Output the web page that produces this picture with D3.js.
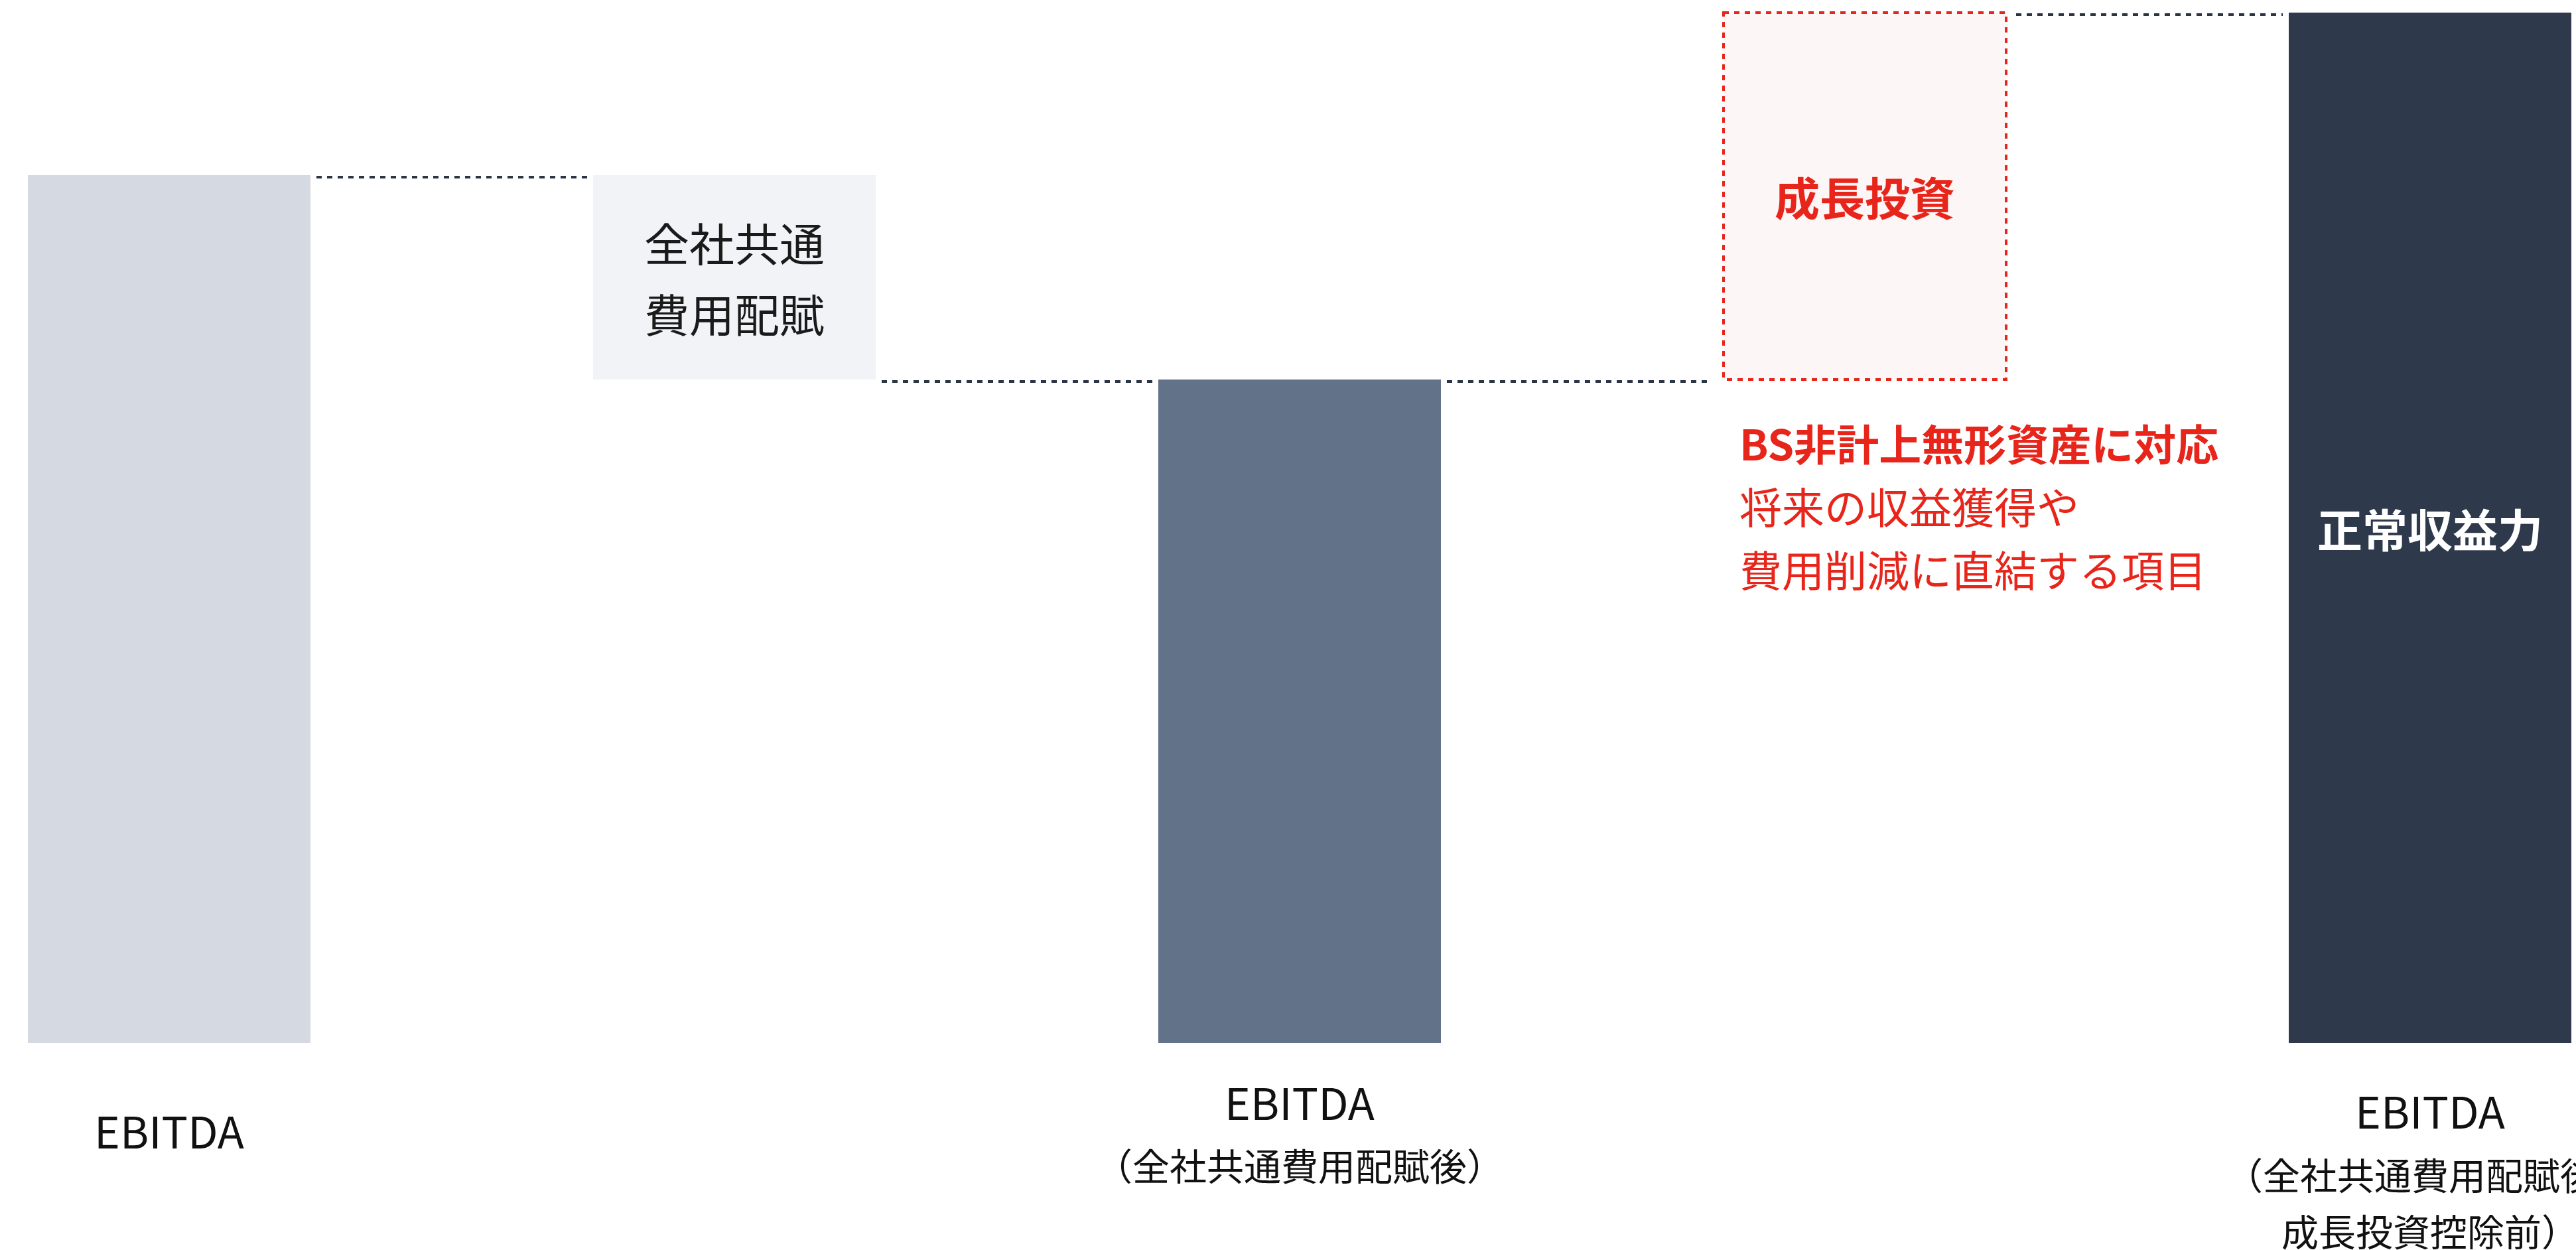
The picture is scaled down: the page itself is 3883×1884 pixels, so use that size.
<!DOCTYPE html>
<html lang="ja">
<head>
<meta charset="utf-8">
<script src="https://cdn.jsdelivr.net/npm/d3@7"></script>
<style>
  html, body { margin: 0; padding: 0; background: #ffffff; }
  svg { display: block; }
  text { font-family: "Noto Sans CJK JP", "Noto Sans", sans-serif; }
</style>
</head>
<body>
<svg id="chart"></svg>
<script>
// Waterfall steps from EBITDA to normalized earning power
const categories = ["EBITDA", "全社共通費用配賦", "EBITDA（全社共通費用配賦後）", "成長投資", "正常収益力"];
const kinds = ["total", "delta", "total", "delta", "total"];
const values = [84.2, -19.8, 64.4, 35.6, 100];

// Text shown inside the bars / boxes
const barTexts = [[], ["全社共通", "費用配賦"], [], ["成長投資"], ["正常収益力"]];

// Category labels under the bars (one entry per line)
const tickLabels = [
  ["EBITDA"],
  [],
  ["EBITDA", "（全社共通費用配賦後）"],
  [],
  ["EBITDA", "（全社共通費用配賦後、", "成長投資控除前）"]
];

// Note beside the growth-investment box
const noteLines = ["BS非計上無形資産に対応", "将来の収益獲得や", "費用削減に直結する項目"];

const W = 3883, H = 1884;
const baseY = 1572;

const svg = d3.select("#chart").attr("width", W).attr("height", H);

const x = d3.scaleBand().domain(categories).range([42, 3876]).paddingInner(0.5).paddingOuter(0);
const y = d3.scaleLinear().domain([0, 100]).range([baseY, 19]);
const py = v => Math.round(y(v));

// running levels
let level = 0;
const steps = categories.map((c, i) => {
  let start, end;
  if (kinds[i] === "total") { start = 0; end = values[i]; level = values[i]; }
  else { start = level; end = level + values[i]; level = end; }
  return { cat: c, kind: kinds[i], i, start, end, level };
});

const fills = ["#d5d9e1", "#f2f3f7", "#627389", "#fdf6f6", "#2e3a4c"];

// bars and step boxes
svg.append("g").selectAll("rect")
  .data(steps)
  .join("rect")
  .attr("x", d => Math.round(x(d.cat)))
  .attr("width", Math.round(x.bandwidth()))
  .attr("y", d => py(Math.max(d.start, d.end)))
  .attr("height", d => Math.abs(py(d.start) - py(d.end)))
  .attr("fill", (d, i) => fills[i])
  .attr("stroke", d => d.cat === "成長投資" ? "#e8251a" : "none")
  .attr("stroke-width", 4)
  .attr("stroke-dasharray", "8 8");

// dotted connectors between consecutive steps
const connectors = d3.pairs(steps).map(([a, b]) => ({ a, b, lv: a.level }));
svg.append("g").selectAll("line")
  .data(connectors)
  .join("line")
  .attr("x1", d => Math.round(x(d.a.cat) + x.bandwidth()) + (d.a.cat === "成長投資" ? 15 : 9))
  .attr("x2", d => Math.round(x(d.b.cat)) - (d.b.cat === "成長投資" ? 17 : 9))
  .attr("y1", d => py(d.lv) + 3)
  .attr("y2", d => py(d.lv) + 3)
  .attr("stroke", "#2a3546")
  .attr("stroke-width", 4)
  .attr("stroke-dasharray", "8 8");

// text inside bars
const innerStyle = {
  "全社共通費用配賦": { fill: "#1a1a1a", weight: 400, size: 68, gap: 107 },
  "成長投資": { fill: "#e8251a", weight: 700, size: 68, gap: 0 },
  "正常収益力": { fill: "#ffffff", weight: 700, size: 68, gap: 0 }
};
steps.forEach((d, i) => {
  const lines = barTexts[i];
  if (!lines.length) return;
  const st = innerStyle[d.cat];
  const cx = x(d.cat) + x.bandwidth() / 2;
  const cy = (y(d.start) + y(d.end)) / 2;
  svg.append("g").selectAll("text")
    .data(lines)
    .join("text")
    .attr("x", cx)
    .attr("y", (t, k) => cy + (k - (lines.length - 1) / 2) * st.gap)
    .attr("text-anchor", "middle")
    .attr("dominant-baseline", "central")
    .attr("fill", st.fill)
    .attr("font-weight", st.weight)
    .attr("font-size", st.size)
    .text(t => t);
});

// note text next to the growth box
const growth = steps[3];
svg.append("g").selectAll("text")
  .data(noteLines)
  .join("text")
  .attr("x", x(growth.cat) + 24)
  .attr("y", (t, k) => 666 + k * 95)
  .attr("dominant-baseline", "central")
  .attr("fill", "#e8251a")
  .attr("font-weight", (t, k) => k === 0 ? 700 : 400)
  .attr("font-size", 64)
  .text(t => t);

// category axis below the bars
const axis = d3.axisBottom(x).tickSize(0).tickFormat("");
const gx = svg.append("g").attr("transform", `translate(0,${baseY})`).call(axis);
gx.select(".domain").remove();

const lineCenters = [[130], [], [87, 182], [], [100, 196, 281]];
gx.selectAll(".tick text").each(function(c, i) {
  const t = d3.select(this)
    .attr("y", 0).attr("dy", null)
    .attr("fill", "#111111")
    .attr("font-family", "'Noto Sans CJK JP', sans-serif");
  t.selectAll("tspan")
    .data(tickLabels[i])
    .join("tspan")
    .attr("x", 0)
    .attr("y", (s, k) => lineCenters[i][k])
    .attr("dominant-baseline", "central")
    .attr("font-size", (s, k) => k === 0 ? 66 : 56)
    .text(s => s);
});
</script>
</body>
</html>
